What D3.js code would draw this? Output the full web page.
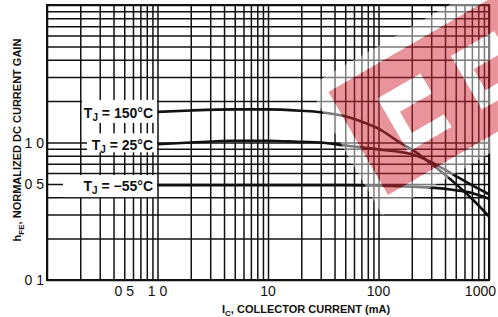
<!DOCTYPE html>
<html>
<head>
<meta charset="utf-8">
<script src="https://cdn.jsdelivr.net/npm/d3@7"></script>
<style>
  body { margin: 0; background: #fff; }
  svg { display: block; }
  .tick-label { font-family: "Liberation Sans Narrow", "Arial Narrow", sans-serif; font-size: 14px; fill: #111; }
  .axis-title { font-family: "Liberation Sans", Arial, sans-serif; font-size: 11px; font-weight: bold; fill: #111; }
  .curve-label { font-family: "Liberation Sans", Arial, sans-serif; font-size: 14px; font-weight: bold; fill: #111; }
</style>
</head>
<body>
<div id="chart"></div>
<script>
// Normalized DC current gain vs collector current (log-log)

// Collector current grid, mA
const current150 = [1, 2, 5, 10, 20, 30, 50, 70, 100, 150, 200, 300, 500, 700, 1000];
const gain150    = [1.67, 1.71, 1.74, 1.74, 1.70, 1.66, 1.55, 1.42, 1.26, 1.02, 0.89, 0.70, 0.50, 0.39, 0.29];

const current25 = [1, 2, 5, 10, 20, 30, 50, 100, 200, 300, 500, 700, 1000];
const gain25    = [0.97, 1.0, 1.03, 1.03, 1.01, 1.0, 0.95, 0.89, 0.82, 0.72, 0.57, 0.49, 0.42];

const currentM55 = [1, 10, 50, 100, 200, 300, 500, 700, 1000];
const gainM55    = [0.49, 0.49, 0.49, 0.485, 0.477, 0.47, 0.45, 0.43, 0.39];

const seriesTemps = ["150", "25", "\u221255"];

const xTickValues = [0.5, 1, 10, 100, 1000];
const xTickLabels = ["0 5", "1 0", "10", "100", "1000"];
const yTickValues = [0.1, 0.5, 1];
const yTickLabels = ["0 1", "0 5", "1 0"];

const width = 498, height = 317;
const margin = { top: 5, right: 9, bottom: 37, left: 47 };

const svg = d3.select("#chart").append("svg")
  .attr("width", width)
  .attr("height", height);

const x = d3.scaleLog().domain([0.1, 1000]).range([margin.left, width - margin.right]);
const y = d3.scaleLog().domain([0.1, 10]).range([height - margin.bottom, margin.top]);

// full log grid: 1..9 in every decade
function logGrid(lo, hi) {
  const out = [];
  for (let d = lo; d < hi; d *= 10) {
    for (let k = 1; k < 10; k++) out.push(d * k);
  }
  out.push(hi);
  return out;
}

const gridX = logGrid(0.1, 1000);
const gridY = logGrid(0.1, 10);

const grid = svg.append("g");

grid.append("g")
  .attr("transform", `translate(0,${y.range()[0]})`)
  .call(d3.axisBottom(x).tickValues(gridX).tickSize(-(y.range()[0] - y.range()[1])).tickFormat(""))
  .call(g => g.select(".domain").remove())
  .call(g => g.selectAll("line").attr("stroke", "#111").attr("stroke-width", 1.5));

grid.append("g")
  .attr("transform", `translate(${x.range()[0]},0)`)
  .call(d3.axisLeft(y).tickValues(gridY).tickSize(-(x.range()[1] - x.range()[0])).tickFormat(""))
  .call(g => g.select(".domain").remove())
  .call(g => g.selectAll("line").attr("stroke", "#111").attr("stroke-width", 1.5));

// frame
svg.append("rect")
  .attr("x", x.range()[0])
  .attr("y", y.range()[1])
  .attr("width", x.range()[1] - x.range()[0])
  .attr("height", y.range()[0] - y.range()[1])
  .attr("fill", "none")
  .attr("stroke", "#111")
  .attr("stroke-width", 2);

// tick labels (last one kept inside the picture)
const lastX = xTickValues.length - 1;
svg.selectAll(".xlab")
  .data(xTickValues)
  .join("text")
  .attr("class", "tick-label")
  .attr("x", (d, i) => i === lastX ? width - 2 : x(d))
  .attr("y", 296)
  .attr("text-anchor", (d, i) => i === lastX ? "end" : "middle")
  .text((d, i) => xTickLabels[i]);

svg.selectAll(".ylab")
  .data(yTickValues)
  .join("text")
  .attr("class", "tick-label")
  .attr("x", 44)
  .attr("y", d => y(d) + 5)
  .attr("text-anchor", "end")
  .text((d, i) => yTickLabels[i]);

// axis titles
const xTitle = svg.append("text")
  .attr("class", "axis-title")
  .attr("x", 222)
  .attr("y", 313);
xTitle.append("tspan").text("I");
xTitle.append("tspan").attr("font-size", "8px").attr("dy", 3).text("C");
xTitle.append("tspan").attr("dy", -3).text(", COLLECTOR CURRENT (mA)");

const yTitle = svg.append("text")
  .attr("class", "axis-title")
  .attr("transform", "translate(21,140) rotate(-90)")
  .attr("text-anchor", "middle");
yTitle.append("tspan").text("h");
yTitle.append("tspan").attr("font-size", "8px").attr("dy", 3).text("FE");
yTitle.append("tspan").attr("dy", -3).text(", NORMALIZED DC CURRENT GAIN");

// curves
const line = d3.line()
  .x(d => x(d[0]))
  .y(d => y(d[1]))
  .curve(d3.curveMonotoneX);

const series = [
  d3.zip(current150, gain150),
  d3.zip(current25, gain25),
  d3.zip(currentM55, gainM55)
];

svg.append("g")
  .selectAll("path")
  .data(series)
  .join("path")
  .attr("d", line)
  .attr("fill", "none")
  .attr("stroke", "#111")
  .attr("stroke-width", 2.6);

// label boxes at the start of each curve
const boxLeft = [82, 87, 63];
const boxAbove = [12, 11, 10];
const boxBelow = [11, 8, 12];

series.forEach((s, i) => {
  const y0 = y(s[0][1]);
  const xr = x(s[0][0]) - 0.5;
  svg.append("rect")
    .attr("x", boxLeft[i])
    .attr("y", y0 - boxAbove[i])
    .attr("width", xr - boxLeft[i])
    .attr("height", boxAbove[i] + boxBelow[i])
    .attr("fill", "#fff");
  const t = svg.append("text")
    .attr("class", "curve-label")
    .attr("x", xr - 4)
    .attr("y", y0 + 6)
    .attr("text-anchor", "end");
  t.append("tspan").text("T");
  t.append("tspan").attr("font-size", "10px").attr("dy", 3).text("J");
  t.append("tspan").attr("dy", -3).text(` = ${seriesTemps[i]}\u00B0C`);
});

// watermark: tilted red block with two letter cut-outs and a pale halo
const mark = svg.append("g")
  .attr("transform", "translate(388,195) rotate(-30)");

function rectPath(u0, v0, u1, v1) {
  return `M${u0},${-v0}L${u1},${-v0}L${u1},${-v1}L${u0},${-v1}Z`;
}
function cutPath(du) {
  const pts = [[39, 27], [89, 27], [89, 42], [52, 42], [52, 66], [89, 66], [89, 89], [39, 89]];
  return "M" + pts.map(p => `${p[0] + du},${-p[1]}`).join("L") + "Z";
}
const redRect = rectPath(0, 0, 240, 119);
const cuts = cutPath(0) + cutPath(85);

mark.append("path")
  .attr("d", rectPath(-15, -15, 260, 134) + redRect + cuts)
  .attr("fill", "#fff")
  .attr("fill-opacity", 0.45)
  .attr("fill-rule", "evenodd");

mark.append("path")
  .attr("d", redRect + cuts)
  .attr("fill", "rgb(211,41,55)")
  .attr("fill-opacity", 0.5)
  .attr("fill-rule", "evenodd");
</script>
</body>
</html>
